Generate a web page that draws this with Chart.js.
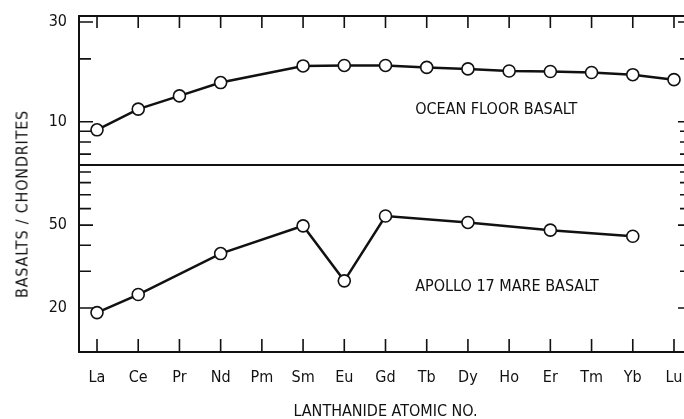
<!DOCTYPE html>
<html>
<head>
<meta charset="utf-8">
<script src="https://cdn.jsdelivr.net/npm/chart.js@4.4.1/dist/chart.umd.min.js"></script>
<style>
  html, body { margin: 0; padding: 0; background: #fff; }
  body { width: 684px; height: 419px; overflow: hidden; position: relative; }
  canvas { position: absolute; left: 0; top: 0; }
  #ytitle {
    position: absolute; left: 22px; top: 204px;
    transform: translate(-50%, -50%) rotate(-90deg);
    white-space: nowrap; color: #111;
    font-family: 'Liberation Sans Narrow', 'DejaVu Sans Condensed', sans-serif;
    font-size: 16px; letter-spacing: 0.8px;
  }
</style>
</head>
<body>
<canvas id="cTop" width="700" height="166"></canvas>
<canvas id="cBot" width="700" height="419"></canvas>
<div id="ytitle">BASALTS / CHONDRITES</div>
<script>
const categories = ['La','Ce','Pr','Nd','Pm','Sm','Eu','Gd','Tb','Dy','Ho','Er','Tm','Yb','Lu'];
const oceanFloor = [9.15, 11.5, 13.3, 15.4, null, 18.5, 18.6, 18.6, 18.2, 17.9, 17.5, 17.4, 17.2, 16.8, 15.9];
const apollo17   = [19.0, 23.2, null, 36.5, null, 49.6, 27.0, 55.3, null, 51.5, null, 47.3, null, 44.2, null];
const topTickLabels = [30, 10];
const topTickMarks = [30, 20, 10, 9, 8, 7];
const bottomTickLabels = [50, 20];
const bottomTickMarks = [90, 80, 70, 60, 50, 40, 30, 20];
const panelLabels = ['OCEAN FLOOR BASALT', 'APOLLO 17 MARE BASALT'];
const panelLabelAnchors = [[7.72, 11.4], [7.72, 25.2]];

const FONT = "'Liberation Sans Narrow', 'DejaVu Sans Condensed', sans-serif";
const INK = '#111';

function points(values) {
  return values.map((v, i) => ({ x: i, y: v })).filter(p => p.y !== null);
}

function framePlugin(marks, labels, side, labelText, anchor) {
  return {
    id: 'frame' + side,
    beforeDatasetsDraw(chart) {
      const { ctx, chartArea: a, scales: { x, y } } = chart;
      ctx.save();
      ctx.strokeStyle = INK;
      ctx.lineWidth = 2;
      ctx.strokeRect(a.left, a.top, a.right - a.left, a.bottom - a.top);
      ctx.lineWidth = 1.6;
      ctx.beginPath();
      categories.forEach((c, i) => {
        const px = x.getPixelForValue(i);
        if (side === 'top') { ctx.moveTo(px, a.top); ctx.lineTo(px, a.top + 12); }
        else { ctx.moveTo(px, a.bottom); ctx.lineTo(px, a.bottom - 13); }
      });
      marks.forEach(v => {
        const py = y.getPixelForValue(v);
        const len = labels.includes(v) ? 14 : 12;
        ctx.moveTo(a.left, py); ctx.lineTo(a.left + len, py);
        ctx.moveTo(a.right, py); ctx.lineTo(a.right - len, py);
      });
      ctx.stroke();
      ctx.fillStyle = INK;
      ctx.font = '16px ' + FONT;
      ctx.textAlign = 'left';
      ctx.textBaseline = 'middle';
      ctx.fillText(labelText, x.getPixelForValue(anchor[0]), y.getPixelForValue(anchor[1]));
      ctx.restore();
    }
  };
}

const lineStyle = {
  borderColor: INK,
  borderWidth: 2.5,
  pointRadius: 6,
  pointBorderWidth: 1.6,
  pointBackgroundColor: '#fff',
  pointBorderColor: INK,
  tension: 0,
  clip: false
};

function yAxis(min, max, labels) {
  return {
    type: 'logarithmic', min, max,
    afterFit: s => { s.width = 79; s.paddingTop = 0; s.paddingBottom = 0; },
    afterBuildTicks: s => { s.ticks = labels.map(v => ({ value: v })); },
    grid: { display: false, drawTicks: false },
    border: { display: false },
    ticks: { color: INK, font: { family: FONT, size: 16 }, padding: 12, autoSkip: false, callback: v => String(v) }
  };
}

new Chart(document.getElementById('cTop'), {
  type: 'line',
  data: { datasets: [Object.assign({ data: points(oceanFloor) }, lineStyle)] },
  options: {
    responsive: false, animation: false,
    layout: { autoPadding: false, padding: { top: 16, bottom: 1, left: 0, right: 8 } },
    plugins: { legend: { display: false }, tooltip: { enabled: false } },
    scales: {
      x: { type: 'linear', min: -0.437, max: 14.437, display: false },
      y: yAxis(6.21, 32.07, topTickLabels)
    }
  },
  plugins: [framePlugin(topTickMarks, topTickLabels, 'top', panelLabels[0], panelLabelAnchors[0])]
});

new Chart(document.getElementById('cBot'), {
  type: 'line',
  data: { datasets: [Object.assign({ data: points(apollo17) }, lineStyle)] },
  options: {
    responsive: false, animation: false,
    layout: { autoPadding: false, padding: { top: 165, bottom: 0, left: 0, right: 8 } },
    plugins: { legend: { display: false }, tooltip: { enabled: false } },
    scales: {
      x: {
        type: 'linear', min: -0.437, max: 14.437,
        afterBuildTicks: s => { s.ticks = categories.map((c, i) => ({ value: i })); },
        afterFit: s => { s.height = 67; s.paddingLeft = 0; s.paddingRight = 0; },
        grid: { display: false, drawTicks: false },
        border: { display: false },
        ticks: { color: INK, font: { family: FONT, size: 16 }, padding: 16, autoSkip: false, maxRotation: 0, callback: v => categories[v] },
        title: { display: true, text: 'LANTHANIDE ATOMIC NO.', color: INK, font: { family: FONT, size: 16, lineHeight: 1 }, padding: { top: 0, bottom: -1 } }
      },
      y: yAxis(12.29, 97.2, bottomTickLabels)
    }
  },
  plugins: [framePlugin(bottomTickMarks, bottomTickLabels, 'bottom', panelLabels[1], panelLabelAnchors[1])]
});
</script>
</body>
</html>
